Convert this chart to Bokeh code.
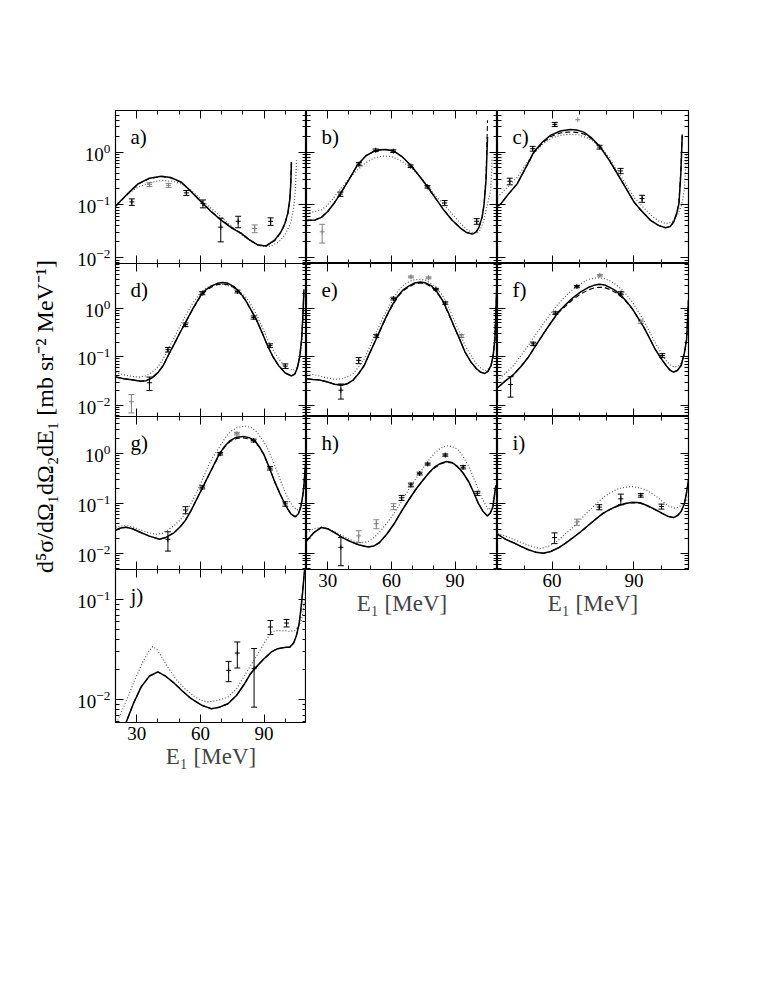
import math
from bokeh.plotting import figure
from bokeh.models import (Range1d, LinearAxis, LogAxis, FixedTicker, LogTickFormatter,
                          CustomJSTickFormatter, Label, Whisker, TeeHead, ColumnDataSource, LogScale)
from bokeh.layouts import row, column
from bokeh.embed import file_html
from bokeh.resources import INLINE

# ---------------- axes / ticks ----------------
X_RANGE_WIDE = (20, 110)
X_RANGE_NARROW = (40, 110)
Y_RANGE_ROW1 = (0.0078, 6.1)
Y_RANGE_ROW2 = (0.0058, 8.5)
Y_RANGE_ROW3 = (0.0047, 5.6)
Y_RANGE_ROW4 = (0.0059, 0.2)
X_MAJOR = [30, 60, 90]
X_MINOR = [20, 40, 50, 70, 80, 100, 110]
Y_MAJOR = [0.001, 0.01, 0.1, 1, 10]
Y_MINOR = [0.002, 0.003, 0.004, 0.005, 0.006, 0.007, 0.008, 0.009,
           0.02, 0.03, 0.04, 0.05, 0.06, 0.07, 0.08, 0.09,
           0.2, 0.3, 0.4, 0.5, 0.6, 0.7, 0.8, 0.9,
           2, 3, 4, 5, 6, 7, 8, 9]
Y_LABEL = "d\u2075\u03c3/d\u03a9\u2081d\u03a9\u2082dE\u2081 [mb sr\u207b\u00b2 MeV\u207b\u00b9]"
X_LABEL = "E\u2081 [MeV]"

# ---------------- panel a ----------------
A_X = [20, 23, 25.8, 30.6, 36, 41.6, 46, 51, 55, 60.4, 65, 69.9, 75, 79.3, 83, 87.2, 91, 95, 98, 99.8, 101.2, 102.1, 102.6, 102.9]
A_SOLID = [0.094, 0.125, 0.164, 0.25, 0.32, 0.35, 0.33, 0.27, 0.19, 0.114, 0.075, 0.051, 0.036, 0.029, 0.022, 0.0174, 0.0168, 0.0216, 0.031, 0.0446, 0.07, 0.123, 0.25, 0.65]
A_DASH = [0.094, 0.124, 0.162, 0.245, 0.315, 0.345, 0.325, 0.268, 0.19, 0.115, 0.076, 0.052, 0.037, 0.029, 0.022, 0.0175, 0.0168, 0.021, 0.030, 0.043, 0.068, 0.12, 0.26, 0.7]
A_DOT_X = [20, 25, 30, 36, 42, 47, 52, 57, 62, 66, 70, 75, 80, 85, 89, 93, 97, 100, 102.5, 104, 104.8, 105.3]
A_DOT = [0.1, 0.15, 0.21, 0.265, 0.29, 0.28, 0.24, 0.17, 0.11, 0.08, 0.058, 0.038, 0.026, 0.019, 0.0165, 0.0165, 0.02, 0.028, 0.045, 0.09, 0.2, 0.7]
A_PX = [27.7, 36, 45, 53.4, 61.2, 69.6, 77.8, 85.6, 93.1]
A_PY = [0.114, 0.242, 0.235, 0.169, 0.106, 0.038, 0.049, 0.0358, 0.049]
A_PE = [0.016, 0.02, 0.02, 0.018, 0.018, 0.018, 0.012, 0.006, 0.008]
A_GRAY = [False, True, True, False, False, False, False, True, False]

# ---------------- panel b ----------------
B_X = [20, 24, 27, 30, 32.9, 36, 40, 43.9, 48, 51.8, 54.5, 57.3, 61.2, 65, 69.1, 73, 77, 81, 84.8, 88.5, 92.7, 95.5, 98.2, 100, 101.3, 102.8, 103.7, 104.6, 105.3]
B_SOLID = [0.051, 0.052, 0.058, 0.075, 0.106, 0.164, 0.3, 0.56, 0.85, 1.03, 1.1, 1.12, 1.04, 0.82, 0.56, 0.36, 0.22, 0.13, 0.079, 0.052, 0.036, 0.03, 0.028, 0.031, 0.038, 0.06, 0.106, 0.3, 1.92]
B_DASH = [0.051, 0.052, 0.058, 0.075, 0.106, 0.164, 0.3, 0.56, 0.85, 1.03, 1.1, 1.12, 1.04, 0.82, 0.56, 0.36, 0.22, 0.13, 0.079, 0.052, 0.036, 0.03, 0.028, 0.031, 0.038, 0.06, 0.105, 0.33, 4.0]
B_DOT_X = [20, 24, 27, 30, 33, 36, 40, 44, 48, 52, 56, 60, 64, 69, 73, 77, 81, 85, 89, 93, 96, 99, 101.5, 103.5, 105.2, 106.8, 107.5]
B_DOT = [0.069, 0.075, 0.08, 0.1, 0.14, 0.2, 0.31, 0.46, 0.63, 0.77, 0.84, 0.82, 0.7, 0.52, 0.36, 0.23, 0.145, 0.098, 0.065, 0.043, 0.033, 0.029, 0.031, 0.05, 0.1, 0.19, 0.8]
B_PX = [27.4, 36, 44.7, 52.6, 60.9, 69.1, 77, 85.1, 100.2]
B_PY = [0.031, 0.16, 0.59, 1.08, 1.04, 0.54, 0.22, 0.109, 0.049]
B_PE = [0.012, 0.015, 0.04, 0.06, 0.06, 0.03, 0.012, 0.012, 0.006]
B_GRAY = [True, False, False, False, False, False, False, False, False]

# ---------------- panel c ----------------
C_X = [40, 41.1, 44, 47.2, 50, 53.3, 56.5, 59.4, 63, 66.7, 69, 71.6, 74.5, 77.7, 80.8, 83.9, 87, 90, 93, 96.1, 99, 101.6, 103.3, 104.6, 105.7, 106.5, 107.2, 107.7]
C_SOLID = [0.095, 0.103, 0.16, 0.25, 0.47, 1.0, 1.55, 2.06, 2.5, 2.68, 2.6, 2.38, 1.85, 1.24, 0.72, 0.39, 0.21, 0.114, 0.075, 0.051, 0.041, 0.037, 0.039, 0.048, 0.07, 0.106, 0.4, 2.06]
C_DASH = [0.095, 0.103, 0.16, 0.25, 0.46, 0.97, 1.48, 1.95, 2.3, 2.4, 2.35, 2.2, 1.78, 1.22, 0.72, 0.39, 0.21, 0.114, 0.075, 0.051, 0.041, 0.037, 0.039, 0.048, 0.07, 0.11, 0.45, 2.3]
C_DOT_X = [40, 43, 47.2, 50, 53.3, 56.5, 60, 63.5, 66.7, 70, 73.5, 77.7, 80.8, 83.9, 87, 90, 93, 96.1, 99, 101.8, 104, 106, 107.5, 108.5, 109.3]
C_DOT = [0.14, 0.2, 0.33, 0.55, 0.95, 1.4, 1.85, 2.1, 2.16, 2.1, 1.8, 1.3, 0.8, 0.44, 0.25, 0.14, 0.095, 0.065, 0.05, 0.044, 0.048, 0.065, 0.1, 0.2, 1.0]
C_PX = [44.5, 52.9, 61, 69.4, 77.4, 85.1, 93]
C_PY = [0.28, 1.16, 3.33, 4.08, 1.24, 0.44, 0.132]
C_PE = [0.04, 0.12, 0.3, 0.0, 0.1, 0.05, 0.02]
C_GRAY = [False, False, False, True, False, False, False]

# ---------------- panel d ----------------
D_X = [20, 24, 28.4, 31.9, 34.5, 37.2, 40, 42.5, 45, 47.7, 50.3, 53, 56.5, 60, 62.7, 65.3, 68, 70.5, 73, 75.8, 78.4, 81, 83.6, 86.3, 89, 91.6, 94.2, 96.8, 100, 103, 104.5, 105.6, 106.8, 107.7, 108.3, 108.8]
D_SOLID = [0.038, 0.035, 0.033, 0.031, 0.032, 0.0365, 0.047, 0.066, 0.11, 0.185, 0.31, 0.515, 1.0, 1.82, 2.45, 2.92, 3.3, 3.42, 3.3, 2.83, 2.2, 1.56, 0.98, 0.6, 0.32, 0.171, 0.1, 0.066, 0.046, 0.040, 0.044, 0.057, 0.1, 0.23, 0.7, 2.5]
D_DASH = [0.038, 0.035, 0.033, 0.031, 0.032, 0.0365, 0.047, 0.066, 0.11, 0.185, 0.31, 0.51, 0.98, 1.75, 2.35, 2.78, 3.1, 3.2, 3.1, 2.7, 2.12, 1.52, 0.96, 0.59, 0.32, 0.17, 0.1, 0.066, 0.046, 0.040, 0.044, 0.057, 0.1, 0.23, 0.7, 2.5]
D_DOT_X = [20, 24, 28, 31, 34, 37, 40, 42.5, 45, 47.7, 50.3, 53, 56.5, 60, 63, 66, 70.5, 75, 78, 81, 83.6, 86.3, 89, 91.6, 94.2, 96.8, 100, 103.5, 105.6, 107, 108, 108.8]
D_DOT = [0.048, 0.042, 0.039, 0.038, 0.04, 0.047, 0.062, 0.091, 0.15, 0.25, 0.42, 0.71, 1.3, 2.13, 2.7, 3.05, 3.16, 2.8, 2.3, 1.82, 1.25, 0.77, 0.42, 0.23, 0.14, 0.091, 0.062, 0.052, 0.06, 0.09, 0.25, 2.0]
D_PX = [27.5, 36, 44.7, 53, 60.9, 77.5, 85.1, 92.8, 100]
D_PY = [0.0117, 0.029, 0.14, 0.46, 2.07, 2.24, 0.65, 0.17, 0.064]
D_PE = [0.0048, 0.009, 0.015, 0.04, 0.15, 0.15, 0.05, 0.015, 0.007]
D_GRAY = [True, False, False, False, False, False, False, False, False]

# ---------------- panel e ----------------
E_X = [20, 23, 26.2, 30, 33.2, 36.7, 39.5, 42, 44.6, 47.2, 49.8, 52.5, 55.2, 57.8, 60.5, 63.1, 65.7, 68.3, 71, 73.6, 76.3, 78.9, 81.5, 84.2, 86.8, 89.4, 92, 94.7, 97.3, 100, 102, 104, 105.5, 107, 108, 108.8, 109.6]
E_SOLID = [0.035, 0.034, 0.033, 0.03, 0.027, 0.0258, 0.028, 0.033, 0.045, 0.066, 0.12, 0.217, 0.4, 0.71, 1.2, 1.82, 2.45, 2.92, 3.35, 3.53, 3.35, 2.92, 2.2, 1.44, 0.82, 0.44, 0.24, 0.125, 0.08, 0.057, 0.048, 0.045, 0.05, 0.066, 0.11, 0.23, 2.5]
E_DASH = [0.035, 0.034, 0.033, 0.03, 0.027, 0.0258, 0.028, 0.033, 0.045, 0.066, 0.12, 0.215, 0.39, 0.69, 1.16, 1.75, 2.35, 2.8, 3.2, 3.35, 3.2, 2.8, 2.12, 1.4, 0.8, 0.43, 0.24, 0.125, 0.08, 0.057, 0.048, 0.045, 0.05, 0.066, 0.11, 0.23, 2.5]
E_DOT_X = [20, 24, 28, 33.2, 36.7, 40, 42, 44.6, 47.2, 49.8, 52.5, 55.2, 57.8, 60.5, 63.1, 66, 69, 71.5, 73.6, 76.3, 79, 81.5, 84.2, 86.8, 89.4, 92, 94.7, 97.3, 100, 102.5, 104.5, 106.5, 108, 109.2]
E_DOT = [0.045, 0.042, 0.038, 0.034, 0.035, 0.04, 0.045, 0.062, 0.091, 0.16, 0.3, 0.53, 0.9, 1.45, 2.3, 3.1, 3.7, 3.95, 4.0, 3.8, 3.2, 2.6, 1.82, 1.1, 0.6, 0.33, 0.171, 0.11, 0.072, 0.056, 0.052, 0.06, 0.1, 1.0]
E_PX = [36.2, 44.6, 52.9, 61, 69.2, 77.5, 81, 85.4, 93]
E_PY = [0.0203, 0.084, 0.27, 1.6, 4.5, 4.3, 2.5, 1.29, 0.27]
E_PE = [0.007, 0.012, 0.02, 0.1, 0.2, 0.2, 0.1, 0.08, 0.02]
E_GRAY = [False, False, False, False, True, True, False, False, True]

# ---------------- panel f ----------------
F_X = [40, 40.4, 43, 45.9, 48.6, 51.3, 54, 56.8, 59.5, 62.2, 65, 67.7, 70.5, 73.2, 75.3, 77.3, 79.3, 81.3, 83.4, 85.4, 87.5, 89.5, 91.5, 93.6, 95.6, 97.7, 99.8, 101.8, 103.2, 104.5, 105.9, 107.3, 108.5, 109.3, 110]
F_SOLID = [0.023, 0.0238, 0.032, 0.0427, 0.063, 0.098, 0.17, 0.297, 0.5, 0.83, 1.2, 1.68, 2.2, 2.7, 3.0, 3.16, 3.05, 2.7, 2.3, 1.82, 1.35, 0.97, 0.64, 0.41, 0.25, 0.146, 0.095, 0.066, 0.053, 0.048, 0.052, 0.066, 0.12, 0.23, 1.5]
F_DASH = [0.023, 0.0238, 0.032, 0.0427, 0.063, 0.098, 0.17, 0.297, 0.5, 0.8, 1.12, 1.55, 2.0, 2.4, 2.65, 2.75, 2.7, 2.45, 2.12, 1.72, 1.3, 0.95, 0.63, 0.41, 0.25, 0.146, 0.095, 0.066, 0.053, 0.048, 0.052, 0.066, 0.12, 0.23, 1.5]
F_DOT_X = [40, 43, 45.9, 48.6, 51.3, 54, 56.8, 59.5, 62.2, 65, 67.7, 70.5, 73.2, 75.3, 77.3, 79.3, 81.3, 83.4, 85.4, 87.5, 89.5, 91.5, 93.6, 95.6, 97.7, 99.8, 101.8, 103.2, 104.8, 106.5, 108, 109.3, 110]
F_DOT = [0.032, 0.046, 0.066, 0.105, 0.171, 0.29, 0.48, 0.78, 1.23, 1.8, 2.5, 3.2, 4.0, 4.2, 4.3, 4.1, 3.7, 3.1, 2.5, 1.85, 1.33, 0.88, 0.56, 0.34, 0.2, 0.125, 0.084, 0.068, 0.061, 0.065, 0.09, 0.2, 0.9]
F_PX = [44.8, 53.1, 61.2, 69.1, 77.5, 85.2, 92.5, 100.4]
F_PY = [0.0266, 0.185, 0.8, 2.83, 4.84, 2.07, 0.53, 0.106]
F_PE = [0.012, 0.015, 0.05, 0.15, 0.2, 0.15, 0.04, 0.01]
F_GRAY = [False, False, False, False, True, False, True, False]

# ---------------- panel g ----------------
G_X = [20, 22.5, 24.9, 28, 31.9, 36, 40.7, 44, 47.7, 50.5, 53, 55.6, 58.2, 60.8, 63.5, 66.2, 68.8, 71.4, 74, 77, 80.2, 83, 85.5, 87.7, 89.9, 92.5, 95.1, 97.7, 100.4, 102.6, 104.7, 106.2, 107.4, 108.3, 108.8, 109.5]
G_SOLID = [0.029, 0.032, 0.0333, 0.031, 0.026, 0.022, 0.019, 0.021, 0.026, 0.034, 0.046, 0.072, 0.12, 0.2, 0.34, 0.58, 0.97, 1.4, 1.84, 2.15, 2.23, 2.1, 1.84, 1.4, 0.97, 0.52, 0.268, 0.15, 0.087, 0.062, 0.054, 0.062, 0.087, 0.15, 0.23, 0.6]
G_DASH = [0.029, 0.032, 0.0333, 0.031, 0.026, 0.022, 0.019, 0.021, 0.026, 0.034, 0.046, 0.072, 0.12, 0.2, 0.34, 0.57, 0.94, 1.35, 1.75, 2.02, 2.08, 1.98, 1.75, 1.36, 0.95, 0.52, 0.268, 0.15, 0.087, 0.062, 0.054, 0.062, 0.087, 0.15, 0.23, 0.6]
G_DOT_X = [20, 22.5, 24.9, 28, 31.9, 35.5, 38.9, 42, 44.5, 47.7, 50.5, 53, 55.6, 58.2, 60.8, 63.5, 66.2, 68.8, 71.4, 74, 77.5, 81.1, 84, 86.5, 88.9, 91.5, 94, 96.5, 99, 101.5, 103.5, 105.6, 107, 108.2, 109.2]
G_DOT = [0.033, 0.035, 0.036, 0.034, 0.029, 0.026, 0.024, 0.025, 0.029, 0.036, 0.047, 0.063, 0.1, 0.166, 0.29, 0.55, 0.9, 1.33, 2.0, 2.75, 3.4, 3.6, 3.35, 2.75, 2.0, 1.33, 0.75, 0.4, 0.21, 0.12, 0.088, 0.074, 0.085, 0.13, 0.4]
G_PX = [44.7, 53, 60.9, 69.3, 77.2, 85.1, 92.8, 100]
G_PY = [0.019, 0.074, 0.211, 1.0, 2.54, 1.84, 0.51, 0.098]
G_PE = [0.008, 0.012, 0.015, 0.06, 0.15, 0.12, 0.04, 0.01]
G_GRAY = [False, False, False, False, True, False, False, False]

# ---------------- panel h ----------------
H_X = [20, 23.5, 27, 30, 33.2, 36.6, 40.2, 44.5, 49, 51.8, 54.3, 57.8, 61.3, 64.8, 68.3, 71.8, 75.4, 78, 80.6, 83.2, 85.9, 88.5, 91.2, 93.8, 96.5, 98.7, 100.9, 103.1, 105.3, 106.7, 107.9, 109.2]
H_SOLID = [0.0175, 0.026, 0.033, 0.031, 0.026, 0.021, 0.0175, 0.0148, 0.0133, 0.014, 0.0162, 0.024, 0.039, 0.07, 0.12, 0.2, 0.315, 0.43, 0.55, 0.64, 0.70, 0.67, 0.55, 0.41, 0.27, 0.17, 0.102, 0.07, 0.0557, 0.065, 0.087, 0.23]
H_DASH = [0.0175, 0.026, 0.033, 0.031, 0.026, 0.021, 0.0175, 0.0148, 0.0133, 0.014, 0.0162, 0.024, 0.039, 0.07, 0.12, 0.2, 0.31, 0.42, 0.53, 0.62, 0.68, 0.65, 0.54, 0.41, 0.27, 0.17, 0.102, 0.07, 0.0557, 0.065, 0.087, 0.23]
H_DOT_X = [20, 23.5, 27, 30, 33.2, 36.6, 40.2, 43, 45.5, 49, 52, 54.3, 57.8, 61.3, 64.8, 68.3, 71.8, 75.4, 78, 80.6, 83.2, 85.9, 88.5, 91.2, 93.8, 96.5, 98.7, 100.9, 103, 105.7, 107.5, 109]
H_DOT = [0.026, 0.031, 0.033, 0.031, 0.027, 0.023, 0.019, 0.017, 0.0162, 0.017, 0.021, 0.026, 0.04, 0.063, 0.11, 0.195, 0.33, 0.55, 0.78, 1.05, 1.3, 1.45, 1.4, 1.23, 0.88, 0.55, 0.33, 0.195, 0.12, 0.074, 0.085, 0.2]
H_PX = [36.2, 44.6, 52.9, 61, 64.8, 69.2, 73.3, 77.1, 85.4, 93.8, 100.5]
H_PY = [0.0131, 0.0223, 0.039, 0.087, 0.13, 0.236, 0.4, 0.62, 0.94, 0.535, 0.16]
H_PE = [0.0075, 0.006, 0.008, 0.012, 0.015, 0.02, 0.025, 0.03, 0.05, 0.04, 0.015]
H_GRAY = [False, True, True, True, False, False, False, False, False, False, False]

# ---------------- panel i ----------------
I_X = [40, 40.4, 43, 45.9, 48.6, 51.3, 54, 56.8, 59.5, 62.2, 65, 67.7, 70.5, 73.2, 75.9, 78.6, 81.4, 84.1, 86.8, 89.5, 92.3, 95, 97.7, 100.4, 102.5, 104.5, 106, 107.3, 108.5, 109.3, 110]
I_SOLID = [0.024, 0.0234, 0.019, 0.0162, 0.0137, 0.0117, 0.0105, 0.010, 0.0108, 0.0127, 0.016, 0.0206, 0.027, 0.036, 0.048, 0.063, 0.077, 0.09, 0.1, 0.106, 0.103, 0.09, 0.076, 0.063, 0.055, 0.052, 0.057, 0.069, 0.1, 0.166, 0.3]
I_DASH = [0.024, 0.0234, 0.019, 0.0162, 0.0137, 0.0117, 0.0105, 0.010, 0.0108, 0.0127, 0.016, 0.0206, 0.027, 0.036, 0.048, 0.062, 0.076, 0.089, 0.099, 0.104, 0.101, 0.089, 0.075, 0.063, 0.055, 0.052, 0.057, 0.069, 0.1, 0.166, 0.3]
I_DOT_X = [40, 43, 45.9, 48.6, 51.3, 55.4, 59, 62.2, 65, 67.7, 70.5, 73.2, 75.9, 78.6, 81.4, 84.1, 86.8, 89.5, 92.3, 95, 97.7, 100.4, 102.5, 104.8, 106.5, 108, 109.5, 110]
I_DOT = [0.025, 0.022, 0.019, 0.0165, 0.0145, 0.0123, 0.014, 0.018, 0.025, 0.033, 0.048, 0.0686, 0.095, 0.13, 0.165, 0.195, 0.212, 0.218, 0.205, 0.18, 0.145, 0.111, 0.09, 0.0805, 0.085, 0.1, 0.12, 0.14]
I_PX = [60.9, 69.1, 77.3, 85.2, 92.5, 100.1]
I_PY = [0.0206, 0.0424, 0.0845, 0.124, 0.146, 0.087]
I_PE = [0.005, 0.006, 0.01, 0.03, 0.012, 0.01]
I_GRAY = [False, True, False, False, False, False]

# ---------------- panel j ----------------
J_X = [22, 25, 28.5, 32.1, 36, 40, 43.5, 47.8, 51.5, 55.7, 60.5, 65.2, 69, 73, 77, 80.9, 83.5, 85.6, 89.5, 93.5, 96, 98.2, 100.5, 102.1, 104, 105.3, 106.5, 107.3, 108.2, 108.9, 109.3]
J_SOLID = [0.0047, 0.0059, 0.0092, 0.0134, 0.0172, 0.0189, 0.0172, 0.0145, 0.0122, 0.0102, 0.0088, 0.0081, 0.0084, 0.0091, 0.011, 0.0145, 0.018, 0.0204, 0.025, 0.030, 0.032, 0.0328, 0.0333, 0.0333, 0.037, 0.044, 0.057, 0.078, 0.12, 0.18, 0.21]
J_DASH = [0.0047, 0.0059, 0.0092, 0.0134, 0.0172, 0.0189, 0.0172, 0.0145, 0.0122, 0.0102, 0.0088, 0.0081, 0.0084, 0.0091, 0.011, 0.0145, 0.018, 0.0204, 0.025, 0.030, 0.032, 0.0328, 0.0333, 0.0333, 0.037, 0.044, 0.057, 0.078, 0.12, 0.18, 0.21]
J_DOT_X = [21.1, 25, 29, 33, 35.5, 37.6, 40, 42.5, 44.7, 48.5, 52.6, 57, 60.5, 63.6, 67, 70, 73, 77, 80.9, 84, 87.2, 90.5, 93.5, 96.5, 99.8, 102, 104.5, 106.3, 107.6, 108.5, 109.2]
J_DOT = [0.0062, 0.0096, 0.0156, 0.024, 0.03, 0.034, 0.031, 0.025, 0.021, 0.016, 0.0129, 0.0108, 0.0098, 0.0095, 0.0097, 0.0101, 0.0106, 0.0128, 0.0175, 0.0225, 0.0288, 0.038, 0.0475, 0.049, 0.049, 0.048, 0.049, 0.054, 0.062, 0.08, 0.106]
J_PX = [73.3, 77.4, 85.3, 93, 100.6]
J_PY = [0.0196, 0.0292, 0.0204, 0.0532, 0.0583]
J_PE = [0.0045, 0.0085, 0.012, 0.0085, 0.005]
J_GRAY = [False, False, False, False, False]

# ---------------- layout constants ----------------
FONT = "Liberation Serif"
FW, FH = 191, 153
LABEL_W = 66
TOP = 110
OV = 14          # overflow room below col-1 panels so the lowest tick label is not clipped
TOTAL_H = TOP + 4 * FH + 60
BLACK = "#000000"
GRAY = "#808080"
DOT_COLOR = "#555555"


def blank_formatter():
    return CustomJSTickFormatter(code="return ''")


def style_axis(ax):
    ax.major_tick_in = 8
    ax.major_tick_out = 0
    ax.minor_tick_in = 4
    ax.minor_tick_out = 0
    ax.axis_line_color = None
    ax.major_tick_line_color = BLACK
    ax.minor_tick_line_color = BLACK
    ax.major_tick_line_width = 1
    ax.minor_tick_line_width = 1
    ax.major_label_text_font = FONT
    ax.major_label_text_font_size = "19px"
    ax.major_label_text_color = BLACK
    ax.axis_label_text_font = FONT
    ax.axis_label_text_font_size = "23px"
    ax.axis_label_text_font_style = "normal"


def make_panel(letter, xr, yr, xs, solid, dash, dot_x, dot_y, px, py, pe, gray,
               left_labels=False, bottom_labels=False,
               b_left=0, b_right=0, b_top=0, b_bottom=0, overflow=0):
    p = figure(width=b_left + FW + b_right, height=b_top + FH + b_bottom + overflow,
               x_range=Range1d(*xr), y_range=Range1d(*yr), y_axis_type="log",
               x_axis_location=None, y_axis_location=None,
               output_backend="svg", toolbar_location=None, title=None,
               min_border_left=b_left, min_border_right=b_right,
               min_border_top=b_top, min_border_bottom=b_bottom + overflow,
               margin=(0, 0, -overflow, 0))
    p.y_scale = LogScale()
    p.grid.grid_line_color = None
    p.outline_line_color = BLACK
    p.outline_line_width = 1.2
    p.background_fill_color = None
    p.border_fill_color = None

    major_x = [t for t in X_MAJOR if xr[0] <= t <= xr[1]]
    minor_x = [t for t in X_MINOR if xr[0] <= t <= xr[1]]

    # bottom / top axes
    for side, loc in (("below", yr[0]), ("above", yr[1])):
        tk = FixedTicker(ticks=major_x, minor_ticks=minor_x)
        if side == "below" and bottom_labels:
            ax = LinearAxis(ticker=tk)
            style_axis(ax)
            ax.major_label_standoff = 4
            ax.axis_label = X_LABEL
            ax.axis_label_standoff = 1
        else:
            ax = LinearAxis(ticker=tk, fixed_location=loc)
            style_axis(ax)
            ax.formatter = blank_formatter()
            ax.major_label_standoff = 0
        p.add_layout(ax, side)

    # left / right axes
    for side, loc in (("left", xr[0]), ("right", xr[1])):
        tk = FixedTicker(ticks=Y_MAJOR, minor_ticks=Y_MINOR)
        if side == "left" and left_labels:
            ax = LogAxis(ticker=tk)
            style_axis(ax)
            ax.formatter = LogTickFormatter()
            ax.major_label_standoff = 5
        else:
            ax = LogAxis(ticker=tk, fixed_location=loc)
            style_axis(ax)
            ax.formatter = blank_formatter()
            ax.major_label_standoff = 0
        p.add_layout(ax, side)

    # curves
    p.line(dot_x, dot_y, line_color=DOT_COLOR, line_width=1.2, line_dash="1 2")
    p.line(xs, dash, line_color=BLACK, line_width=1.1, line_dash="5 3")
    p.line(xs, solid, line_color=BLACK, line_width=1.5)

    # data points with error bars
    for flag, col in ((False, BLACK), (True, GRAY)):
        sel = [k for k in range(len(px)) if gray[k] == flag]
        if not sel:
            continue
        bx = [px[k] for k in sel]
        by = [py[k] for k in sel]
        be = [pe[k] for k in sel]
        wsel = [k for k in range(len(sel)) if be[k] > 0]
        if wsel:
            wsrc = ColumnDataSource(dict(
                base=[bx[k] for k in wsel],
                upper=[by[k] + be[k] for k in wsel],
                lower=[by[k] - be[k] for k in wsel]))
            w = Whisker(source=wsrc, base="base", upper="upper", lower="lower",
                        dimension="height", line_color=col, line_width=1,
                        upper_head=TeeHead(size=6, line_color=col, line_width=1),
                        lower_head=TeeHead(size=6, line_color=col, line_width=1))
            p.add_layout(w)
        p.scatter(bx, by, marker="cross", size=5, line_color=col, line_width=1)

    p.add_layout(Label(x=15, y=FH - 26, x_units="screen", y_units="screen",
                       text=letter + ")", text_font=FONT, text_font_size="21px",
                       text_color=BLACK, text_baseline="middle", text_align="left"))
    return p


pa = make_panel("a", X_RANGE_WIDE, Y_RANGE_ROW1, A_X, A_SOLID, A_DASH, A_DOT_X, A_DOT,
                A_PX, A_PY, A_PE, A_GRAY, left_labels=True, b_left=49, b_top=TOP, overflow=OV)
pb = make_panel("b", X_RANGE_WIDE, Y_RANGE_ROW1, B_X, B_SOLID, B_DASH, B_DOT_X, B_DOT,
                B_PX, B_PY, B_PE, B_GRAY, b_top=TOP)
pc = make_panel("c", X_RANGE_NARROW, Y_RANGE_ROW1, C_X, C_SOLID, C_DASH, C_DOT_X, C_DOT,
                C_PX, C_PY, C_PE, C_GRAY, b_top=TOP, b_right=10)
pd = make_panel("d", X_RANGE_WIDE, Y_RANGE_ROW2, D_X, D_SOLID, D_DASH, D_DOT_X, D_DOT,
                D_PX, D_PY, D_PE, D_GRAY, left_labels=True, b_left=49, overflow=OV)
pe_ = make_panel("e", X_RANGE_WIDE, Y_RANGE_ROW2, E_X, E_SOLID, E_DASH, E_DOT_X, E_DOT,
                 E_PX, E_PY, E_PE, E_GRAY)
pf = make_panel("f", X_RANGE_NARROW, Y_RANGE_ROW2, F_X, F_SOLID, F_DASH, F_DOT_X, F_DOT,
                F_PX, F_PY, F_PE, F_GRAY, b_right=10)
pg = make_panel("g", X_RANGE_WIDE, Y_RANGE_ROW3, G_X, G_SOLID, G_DASH, G_DOT_X, G_DOT,
                G_PX, G_PY, G_PE, G_GRAY, left_labels=True, b_left=49, overflow=OV)
ph = make_panel("h", X_RANGE_WIDE, Y_RANGE_ROW3, H_X, H_SOLID, H_DASH, H_DOT_X, H_DOT,
                H_PX, H_PY, H_PE, H_GRAY, bottom_labels=True, b_bottom=60)
pi = make_panel("i", X_RANGE_NARROW, Y_RANGE_ROW3, I_X, I_SOLID, I_DASH, I_DOT_X, I_DOT,
                I_PX, I_PY, I_PE, I_GRAY, bottom_labels=True, b_bottom=60, b_right=10)
pj = make_panel("j", X_RANGE_WIDE, Y_RANGE_ROW4, J_X, J_SOLID, J_DASH, J_DOT_X, J_DOT,
                J_PX, J_PY, J_PE, J_GRAY, left_labels=True, bottom_labels=True,
                b_left=49, b_bottom=60)

# y-axis title in its own narrow canvas
lf = figure(width=LABEL_W, height=TOTAL_H, x_range=Range1d(0, LABEL_W), y_range=Range1d(0, TOTAL_H),
            x_axis_location=None, y_axis_location=None, output_backend="svg",
            toolbar_location=None, min_border=0, title=None)
lf.grid.grid_line_color = None
lf.outline_line_color = None
lf.background_fill_color = None
lf.border_fill_color = None
lf.add_layout(Label(x=44, y=TOTAL_H - 416, text=Y_LABEL, angle=math.pi / 2,
                    text_font=FONT, text_font_size="24px", text_color=BLACK,
                    text_align="center", text_baseline="middle"))

layout = row(lf, column(pa, pd, pg, pj), column(pb, pe_, ph), column(pc, pf, pi))

with open("out.html", "w") as fh:
    fh.write(file_html(layout, INLINE))
